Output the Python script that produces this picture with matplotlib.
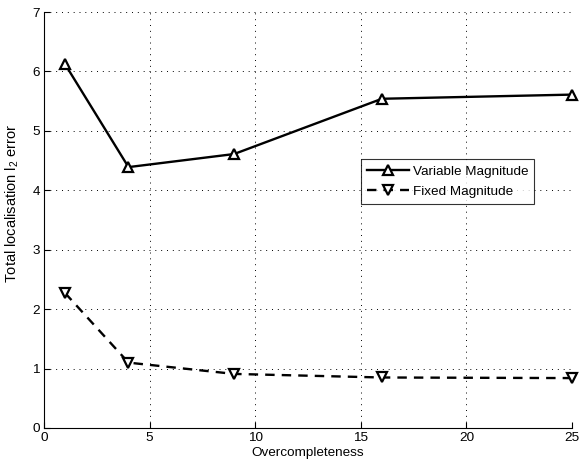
import matplotlib
matplotlib.use("Agg")
import matplotlib.pyplot as plt

plt.rcParams['font.family'] = ['Liberation Sans', 'DejaVu Sans']
plt.rcParams['mathtext.fontset'] = 'custom'
plt.rcParams['mathtext.rm'] = 'Liberation Sans'
plt.rcParams['mathtext.it'] = 'Liberation Sans'

# Data
overcompleteness = [1, 4, 9, 16, 25]
variable_mag = [6.12, 4.39, 4.61, 5.54, 5.61]
fixed_mag = [2.27, 1.10, 0.91, 0.85, 0.84]

fs = 9.7

fig = plt.figure(figsize=(5.81, 4.62), dpi=100)
ax = fig.add_axes([44 / 581, 34 / 462, 528 / 581, 416 / 462])

ax.plot(overcompleteness, variable_mag, '-', color='black', lw=1.7,
        marker='^', ms=7, mfc='white', mec='black', mew=1.6,
        label='Variable Magnitude', clip_on=False, zorder=3)
ax.plot(overcompleteness, fixed_mag, '--', color='black', lw=1.7,
        marker='v', ms=7, mfc='white', mec='black', mew=1.6,
        dashes=(4, 3), label='Fixed Magnitude', clip_on=False, zorder=3)

ax.set_xlim(0, 25)
ax.set_ylim(0, 7)
ax.set_xticks([0, 5, 10, 15, 20, 25])
ax.set_yticks(range(8))
ax.grid(True, linestyle=(0, (1, 5)), color='black', lw=0.7)
ax.spines['top'].set_visible(False)
ax.spines['right'].set_visible(False)
ax.tick_params(direction='in', length=4, labelsize=fs, pad=3)

ax.set_xlabel('Overcompleteness', fontsize=fs, labelpad=2)
ax.set_ylabel('Total localisation l$_2$ error', fontsize=10.5)
ax.yaxis.set_label_coords(-0.043, 0.54)

leg = ax.legend(loc='upper left', bbox_to_anchor=(0.600, 0.646), fontsize=fs,
                frameon=True, fancybox=False, edgecolor='black',
                handlelength=3.1, borderpad=0.45, labelspacing=0.55,
                handletextpad=0.3, borderaxespad=0)
leg.get_frame().set_linewidth(0.8)

fig.savefig('out.png', dpi=100)
